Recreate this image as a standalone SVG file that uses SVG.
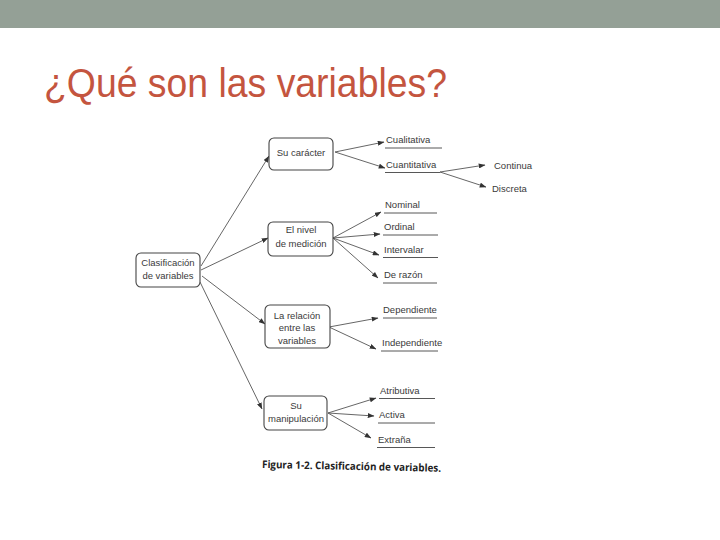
<svg xmlns="http://www.w3.org/2000/svg" width="720" height="540" viewBox="0 0 720 540">
<defs>
<marker id="ah" viewBox="0 0 8 6" refX="7.5" refY="3" markerWidth="7" markerHeight="5" markerUnits="userSpaceOnUse" orient="auto">
<path d="M0,0 L8,3 L0,6 z" fill="#333"/>
</marker>
<style>
.node rect{fill:#fff;stroke:#444;stroke-width:1.1}
.nt{font-family:"Liberation Sans",Arial,sans-serif;font-size:9.5px;fill:#3a3a3a;text-anchor:middle}
.lt{font-family:"Liberation Sans",Arial,sans-serif;font-size:9.5px;fill:#3a3a3a}
.ul{stroke:#444;stroke-width:0.9}
.cn line{stroke:#555;stroke-width:0.9;marker-end:url(#ah)}
</style>
</defs>
<rect width="720" height="540" fill="#fff"/>
<rect x="0" y="0" width="720" height="28" fill="#94a096"/>
<text x="44" y="97" font-family="Liberation Sans, Arial, sans-serif" font-size="41" fill="#c4553f" textLength="403" lengthAdjust="spacingAndGlyphs">¿Qué son las variables?</text>

<g id="connectors" class="cn">
<line x1="201" y1="266" x2="269" y2="156"/>
<line x1="201" y1="270" x2="268" y2="238"/>
<line x1="202" y1="276" x2="265" y2="324"/>
<line x1="200" y1="282" x2="262" y2="409"/>
<line x1="335" y1="152" x2="384" y2="142"/>
<line x1="335" y1="152" x2="385" y2="168"/>
<line x1="440" y1="172" x2="485" y2="165"/>
<line x1="440" y1="172" x2="486" y2="187"/>
<line x1="333" y1="238" x2="381" y2="212"/>
<line x1="333" y1="238" x2="380" y2="234"/>
<line x1="333" y1="238" x2="379" y2="255"/>
<line x1="333" y1="238" x2="378" y2="278"/>
<line x1="329" y1="327" x2="378" y2="318"/>
<line x1="329" y1="327" x2="376" y2="349"/>
<line x1="328" y1="413" x2="376" y2="398"/>
<line x1="328" y1="413" x2="374" y2="416"/>
<line x1="328" y1="413" x2="371" y2="438"/>
</g>

<g id="n-clasificacion" class="node">
<rect x="136" y="253" width="64" height="34" rx="5"/>
<text class="nt" x="168" y="266">Clasificación</text>
<text class="nt" x="168" y="279">de variables</text>
</g>
<g id="n-caracter" class="node">
<rect x="269" y="138" width="64" height="32" rx="5"/>
<text class="nt" x="301" y="156">Su carácter</text>
</g>
<g id="n-nivel" class="node">
<rect x="268" y="222" width="65" height="34" rx="5"/>
<text class="nt" x="301" y="233">El nivel</text>
<text class="nt" x="301" y="247">de medición</text>
</g>
<g id="n-relacion" class="node">
<rect x="265" y="305" width="65" height="43" rx="5"/>
<text class="nt" x="297" y="319">La relación</text>
<text class="nt" x="297" y="331">entre las</text>
<text class="nt" x="297" y="344">variables</text>
</g>
<g id="n-manipulacion" class="node">
<rect x="264" y="396" width="63" height="34" rx="5"/>
<text class="nt" x="296" y="409">Su</text>
<text class="nt" x="296" y="422">manipulación</text>
</g>

<g id="l-cualitativa"><text class="lt" x="386" y="143">Cualitativa</text><line class="ul" x1="385" y1="148" x2="442" y2="148"/></g>
<g id="l-cuantitativa"><text class="lt" x="386" y="168">Cuantitativa</text><line class="ul" x1="385" y1="172.5" x2="440" y2="172.5"/></g>
<g id="l-continua"><text class="lt" x="494" y="169">Continua</text></g>
<g id="l-discreta"><text class="lt" x="492" y="192">Discreta</text></g>
<g id="l-nominal"><text class="lt" x="385" y="208">Nominal</text><line class="ul" x1="384" y1="213" x2="437" y2="213"/></g>
<g id="l-ordinal"><text class="lt" x="384" y="230">Ordinal</text><line class="ul" x1="383" y1="235" x2="438" y2="235"/></g>
<g id="l-intervalar"><text class="lt" x="384" y="253">Intervalar</text><line class="ul" x1="383" y1="257.5" x2="438" y2="257.5"/></g>
<g id="l-razon"><text class="lt" x="384" y="278">De razón</text><line class="ul" x1="383" y1="283" x2="437" y2="283"/></g>
<g id="l-dependiente"><text class="lt" x="383" y="313">Dependiente</text><line class="ul" x1="383" y1="318" x2="437" y2="318"/></g>
<g id="l-independiente"><text class="lt" x="382" y="346">Independiente</text><line class="ul" x1="381" y1="351" x2="438" y2="351"/></g>
<g id="l-atributiva"><text class="lt" x="380" y="394">Atributiva</text><line class="ul" x1="379" y1="398.5" x2="435" y2="398.5"/></g>
<g id="l-activa"><text class="lt" x="379" y="418">Activa</text><line class="ul" x1="378" y1="423" x2="435" y2="423"/></g>
<g id="l-extrana"><text class="lt" x="378" y="443">Extraña</text><line class="ul" x1="377" y1="447.5" x2="435" y2="447.5"/></g>

<text x="262" y="468" font-family="Open Sans, Liberation Sans, sans-serif" font-size="10.5" font-weight="700" fill="#222" textLength="179" lengthAdjust="spacingAndGlyphs" transform="rotate(1.2 262 468)">Figura 1-2. Clasificación de variables.</text>
</svg>
